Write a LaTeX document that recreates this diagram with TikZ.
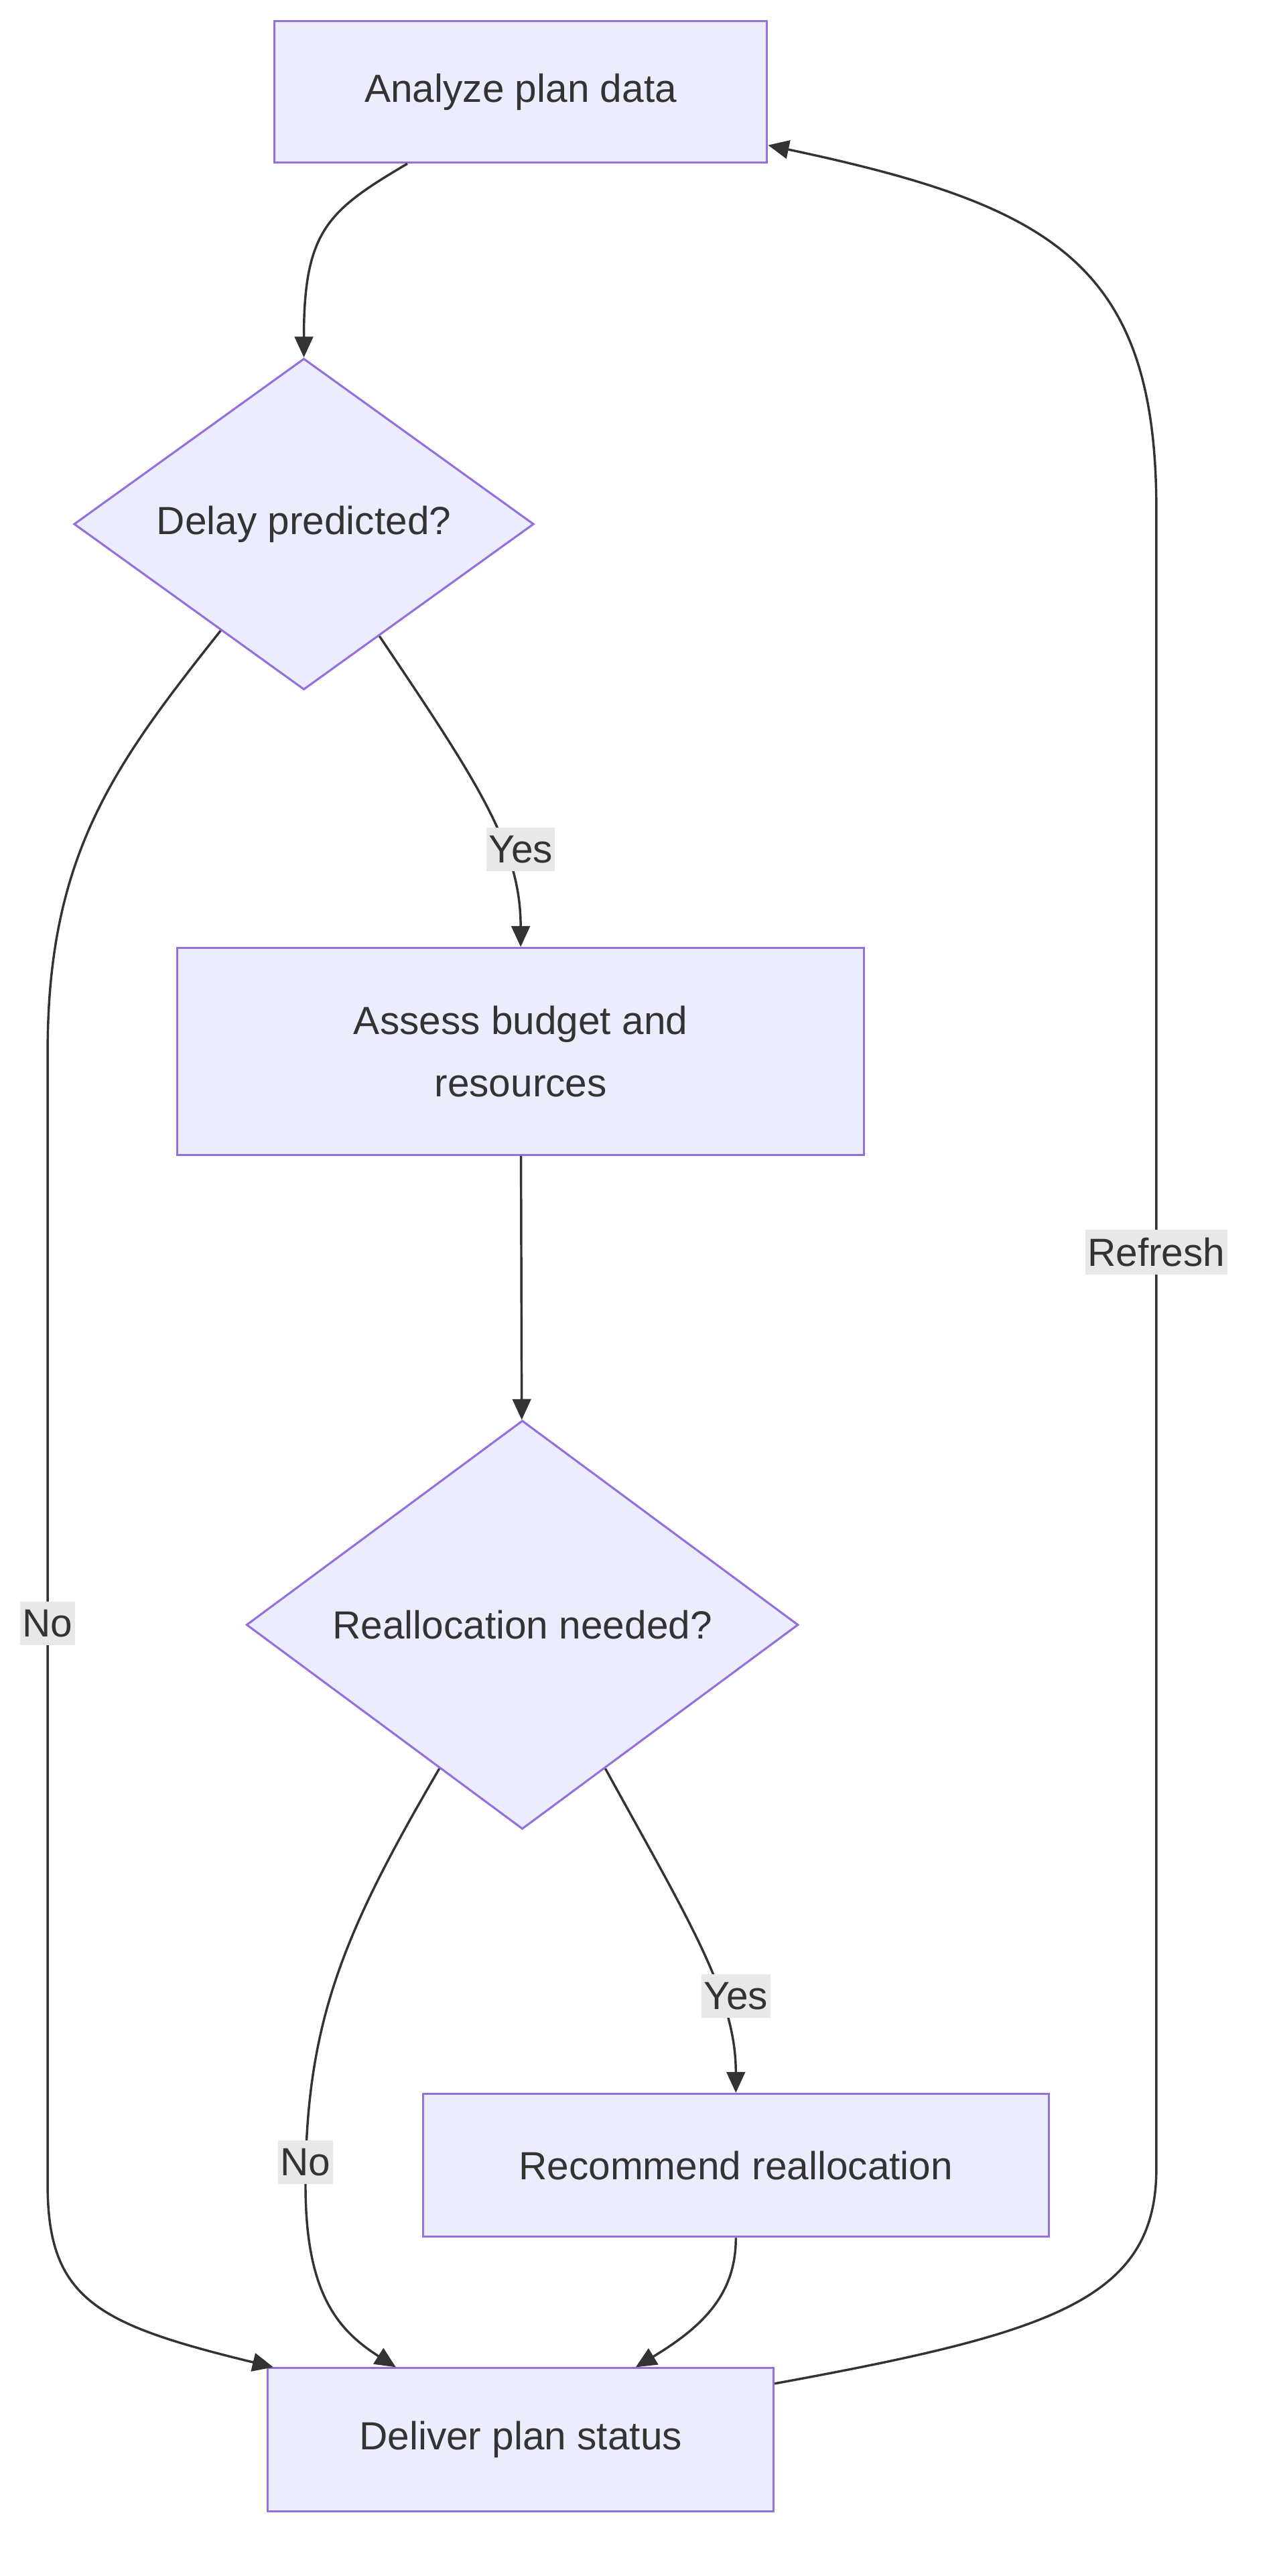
\documentclass[tikz,border=0pt]{standalone}
\usepackage{fontspec}
\setmainfont{Liberation Sans}
\usetikzlibrary{arrows.meta,shapes.geometric,positioning,calc}
\definecolor{boxfill}{HTML}{ECECFF}
\definecolor{boxline}{HTML}{9370DB}
\definecolor{edgeline}{HTML}{333333}
\definecolor{lblfill}{HTML}{E8E8E8}
\tikzset{
stepbox/.style = {rectangle, draw=boxline, fill=boxfill, line width=1.8pt, align=center, text=edgeline, font=\fontsize{34}{54}\selectfont},
askbox/.style = {diamond, aspect=1, draw=boxline, fill=boxfill, line width=1.8pt, inner sep=0pt, text=edgeline, font=\fontsize{34}{54}\selectfont},
flow/.style = {draw=edgeline, line width=2pt, -{Triangle[length=18pt,width=16pt]}},
lbl/.style = {fill=lblfill, text=edgeline, inner xsep=2pt, inner ysep=7pt, font=\fontsize{34}{40}\selectfont}
}
\begin{document}
\begin{tikzpicture}[x=0.05cm, y=-0.05cm]
  \useasboundingbox (0,0) rectangle (775,1568);
  % steps and questions
  \node [stepbox, minimum width=15cm, minimum height=4.3cm] (analyze) at (317,56) {Analyze plan data};
  \node [askbox, minimum width=14cm] (delay) at (185,319) {Delay predicted?};
  \node [stepbox, minimum width=20.9cm, minimum height=6.3cm] (assess) at (317,640) {Assess budget and\\resources};
  \node [askbox, minimum width=16.8cm] (realloc) at (318,989) {Reallocation needed?};
  \node [stepbox, minimum width=19.05cm, minimum height=4.35cm] (recommend) at (448,1318) {Recommend reallocation};
  \node [stepbox, minimum width=15.4cm, minimum height=4.35cm] (deliver) at (317,1485) {Deliver plan status};
  % connectors
  \draw [flow] ($(analyze.south)+(-69,0)$) .. controls (200,128) and (185,140) .. (delay.north);
  \draw [flow] (delay.-56) .. controls (290,475) and (317,515) .. (assess.north);
  \draw [flow] (delay.-128) .. controls (70,465) and (29,520) .. (29,640) -- (29,1330)
    .. controls (29,1400) and (60,1415) .. ($(deliver.north west)+(4,0)$);
  \draw [flow] (assess) -- (realloc);
  \draw [flow] (realloc.-60) .. controls (420,1170) and (448,1215) .. (recommend.north);
  \draw [flow] (realloc.-120) .. controls (210,1175) and (186,1230) .. (186,1330)
    .. controls (186,1395) and (205,1418) .. ($(deliver.north)+(-76,0)$);
  \draw [flow] (recommend.south) .. controls (448,1395) and (430,1415) .. ($(deliver.north)+(70,0)$);
  \draw [flow] ($(deliver.north east)+(0,10)$) .. controls (640,1420) and (704,1400) .. (704,1320)
    -- (704,310) .. controls (704,160) and (640,125) .. ($(analyze.north east)+(0,76)$);
  % labels
  \node [lbl] (yes1) at (317,517) {Yes};
  \node [lbl] (no1) at (29,988) {No};
  \node [lbl] (yes2) at (448,1215) {Yes};
  \node [lbl] (no2) at (186,1316) {No};
  \node [lbl] (refresh) at (704,762) {Refresh};
\end{tikzpicture}
\end{document}
